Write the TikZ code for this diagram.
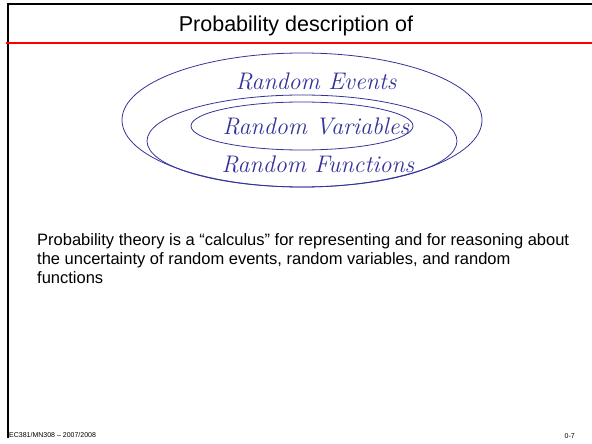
\documentclass[tikz,border=0pt]{standalone}
\usepackage{fontspec}
\newfontfamily\arial{Liberation Sans}
\usepackage{xcolor}
\usepackage{tikz}
\usetikzlibrary{shapes.geometric,positioning}

\definecolor{ringblue}{RGB}{51,51,153}

\begin{document}
\begin{tikzpicture}[
    x=1pt, y=-1pt,
    frame/.style={line width=2pt, black},
    rule/.style={line width=2pt, red},
    ring/.style={draw=ringblue, line width=0.8pt, ellipse, inner sep=0pt},
    rlabel/.style={anchor=base, text=ringblue, inner sep=0pt, font=\fontsize{24}{28}\selectfont\itshape},
    title/.style={anchor=base, inner sep=0pt, font=\arial\fontsize{21.5}{24}\selectfont},
    body/.style={anchor=base west, inner sep=0pt, align=left, font=\arial\fontsize{16.5}{19}\selectfont},
    foot/.style={inner sep=0pt, font=\arial\fontsize{7}{8}\selectfont}
]
\useasboundingbox (0,0) rectangle (592,444);

% slide frame and title rule
\draw[frame] (8,438) -- (8,4.5) -- (592,4.5);
\draw[rule] (6,43) -- (592,43);

\node[title] (head) at (296,32) {Probability description of};

% nested sets
\node[ring, minimum width=360pt, minimum height=134pt] (events) at (302,120) {};
\node[ring, minimum width=310pt, minimum height=92pt] (vars) at (302,141) {};
\node[ring, minimum width=222pt, minimum height=48pt] (inner) at (302,126) {};

\node[rlabel] (ev) at (316,89) {Random Events};
\node[rlabel] (rv) at (316,134) {Random Variables};
\node[rlabel] (rf) at (318,172) {Random Functions};

% base of the node sits on its last line
\node[body] (text) at (37,283) {Probability theory is a “calculus” for representing and for reasoning about\\
the uncertainty of random events, random variables, and random\\
functions};

\node[foot, anchor=base west] (course) at (9,437) {EC381/MN308 – 2007/2008};
\node[foot, anchor=base east] (page) at (575,438) {0-7};

\end{tikzpicture}
\end{document}
